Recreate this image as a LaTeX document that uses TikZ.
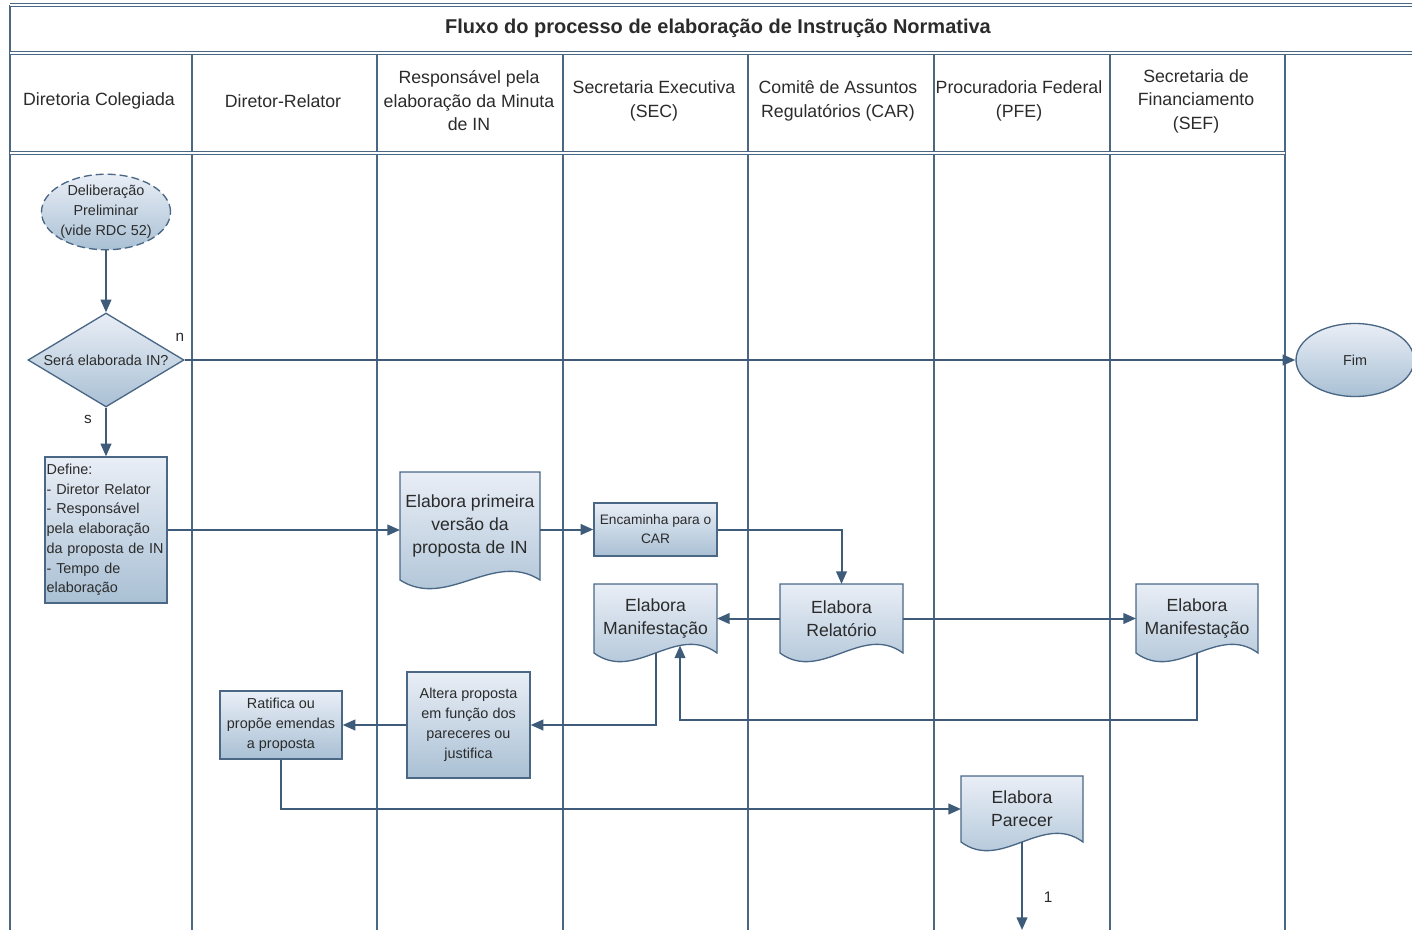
\documentclass[tikz,border=0pt]{standalone}
\usepackage{fontspec}
\setmainfont{Liberation Sans}
\usetikzlibrary{arrows.meta,shapes.geometric,calc}
\definecolor{lanec}{HTML}{4A6783}
\definecolor{linec}{HTML}{3E5C7A}
\definecolor{bordc}{HTML}{4A6785}
\definecolor{fillt}{HTML}{E9EEF6}
\definecolor{fillb}{HTML}{A9C0D4}
\definecolor{txtc}{HTML}{2B2B2B}
\pgfdeclarelayer{lanes}
\pgfdeclarelayer{shapes}
\pgfsetlayers{lanes,shapes,main}
\newcommand\docoutline[1]{%
  \begin{pgfonlayer}{shapes}
  \path[docsh] (#1.north west) -- (#1.north east) -- (#1.south east)
    .. controls ($(#1.south east)!0.333!(#1.south west)+(0,-30)$) and ($(#1.south east)!0.667!(#1.south west)+(0,30)$) .. (#1.south west) -- cycle;
  \end{pgfonlayer}}
\begin{document}
\begin{tikzpicture}[x=0.75pt,y=-0.75pt,
  lane/.style={draw=lanec,line width=1.2pt},
  laned/.style={draw=lanec,line width=0.7pt,double=white,double distance=0.9pt},
  conn/.style={draw=linec,line width=1.5pt,-{Triangle[length=9.5pt,width=8pt]}},
  hdr/.style={font=\fontsize{13.3}{17.6}\selectfont,text=txtc,align=center},
  proc/.style={rectangle,draw=bordc,line width=1pt,top color=fillt,bottom color=fillb,
    text=txtc,align=center,inner sep=1pt,font=\fontsize{10.8}{15}\selectfont},
  docn/.style={rectangle,inner sep=0pt,outer sep=0pt,text=txtc,align=center,
    font=\fontsize{13.2}{17.5}\selectfont},
  docsh/.style={draw=bordc,line width=1pt,top color=fillt,bottom color=fillb},
  lbl/.style={font=\fontsize{11.5}{14}\selectfont,text=txtc}]
\useasboundingbox (0,0) rectangle (1412,930);

% swimlanes
\begin{pgfonlayer}{lanes}
  \draw[lane] (10,5) -- (10,930);
  \foreach \x in {192,377,563,748,934,1110,1285} \draw[lane] (\x,53) -- (\x,930);
  \draw[laned] (10,5) -- (1412,5);
  \draw[laned] (10,53) -- (1412,53);
  \draw[laned] (10,153) -- (1285,153);
\end{pgfonlayer}

% title and headers
\node[font=\bfseries\fontsize{15}{18}\selectfont,text=txtc] (title) at (718,28) {Fluxo do processo de elaboração de Instrução Normativa};
\node[hdr] (h1) at (99,101) {Diretoria Colegiada};
\node[hdr] (h2) at (283,101) {Diretor-Relator};
\node[hdr] (h3) at (469,101) {Responsável pela\\elaboração da Minuta\\de IN};
\node[hdr] (h4) at (654,101) {Secretaria Executiva\\(SEC)};
\node[hdr] (h5) at (838,101) {Comitê de Assuntos\\Regulatórios (CAR)};
\node[hdr] (h6) at (1019,101) {Procuradoria Federal\\(PFE)};
\node[hdr] (h7) at (1196,101) {Secretaria de\\Financiamento\\(SEF)};

% nodes
\node[ellipse,draw=bordc,line width=1pt,dashed,dash pattern=on 6pt off 3pt,top color=fillt,bottom color=fillb,
  minimum width=91.5pt,minimum height=55.5pt,inner sep=0pt,text=txtc,align=center,
  font=\fontsize{10.8}{15}\selectfont] (start) at (106,212) {Deliberação\\Preliminar\\(vide RDC 52)};
\node[diamond,draw=bordc,line width=1pt,top color=fillt,bottom color=fillb,shape aspect=1.66,
  minimum width=117pt,minimum height=70.5pt,inner sep=0pt,text=txtc,
  font=\fontsize{10.8}{14}\selectfont] (dia) at (106,360) {Será elaborada IN?};
\node[proc,align=left,minimum width=91.5pt,minimum height=109.5pt,text width=89pt,
  font=\fontsize{10.8}{14.8}\selectfont] (def) at (106,530)
  {Define:\\- Diretor Relator\\- Responsável\\pela elaboração\\da proposta de IN\\- Tempo de\\elaboração};
\node[ellipse,draw=bordc,line width=1pt,top color=fillt,bottom color=fillb,
  minimum width=88.5pt,minimum height=54.75pt,inner sep=0pt,text=txtc,
  font=\fontsize{10.8}{14}\selectfont] (fim) at (1355,360) {Fim};

\node[docn,minimum width=105pt,minimum height=81pt] (doc1) at (470,526) {Elabora primeira\\versão da\\proposta de IN};
\docoutline{doc1}
\node[proc,minimum width=92.25pt,minimum height=39.75pt,font=\fontsize{10.3}{14.3}\selectfont] (enc) at (655.5,529.5) {Encaminha para o\\CAR};
\node[docn,minimum width=92.25pt,minimum height=51.75pt] (msec) at (655.5,618.5) {Elabora\\Manifestação};
\docoutline{msec}
\node[docn,minimum width=92.25pt,minimum height=51.75pt] (rel) at (841.5,618.5) {Elabora\\Relatório};
\docoutline{rel}
\node[docn,minimum width=91.5pt,minimum height=51.75pt] (sefm) at (1197,618.5) {Elabora\\Manifestação};
\docoutline{sefm}
\node[proc,minimum width=92.25pt,minimum height=79.5pt] (alt) at (468.5,725) {Altera proposta\\em função dos\\pareceres ou\\justifica};
\node[proc,minimum width=91.5pt,minimum height=51pt] (rat) at (281,725) {Ratifica ou\\propõe emendas\\a proposta};
\node[docn,minimum width=91.5pt,minimum height=49.5pt] (par) at (1022,809) {Elabora\\Parecer};
\docoutline{par}

\coordinate (pend) at (1022,930);
\coordinate (mseclow) at ($(msec.south)+(24.5,-7.5)$);

% connectors
\draw[conn] (start) -- (dia);
\draw[conn] (dia.east) -- (fim.west);
\draw[conn] (dia.south) -- (def.north);
\draw[conn] (def.east) -- (def.east -| doc1.west);
\draw[conn] (doc1.east |- enc.west) -- (enc.west);
\draw[conn] (enc.east) -| (rel.north);
\draw[conn] (rel.west) -- (msec.east);
\draw[conn] (rel.east) -- (sefm.west);
\draw[conn] (sefm.south) -- ++(0,67) -| (mseclow);
\draw[conn] (msec.south) |- (alt.east);
\draw[conn] (alt.west) -- (rat.east);
\draw[conn] (rat.south) |- (par.west);
\draw[conn] (par.south) -- (pend);

% labels
\node[lbl] (ln) at (180,337) {n};
\node[lbl] (ls) at (88,419) {s};
\node[lbl] (l1) at (1048,897) {1};
\end{tikzpicture}
\end{document}
